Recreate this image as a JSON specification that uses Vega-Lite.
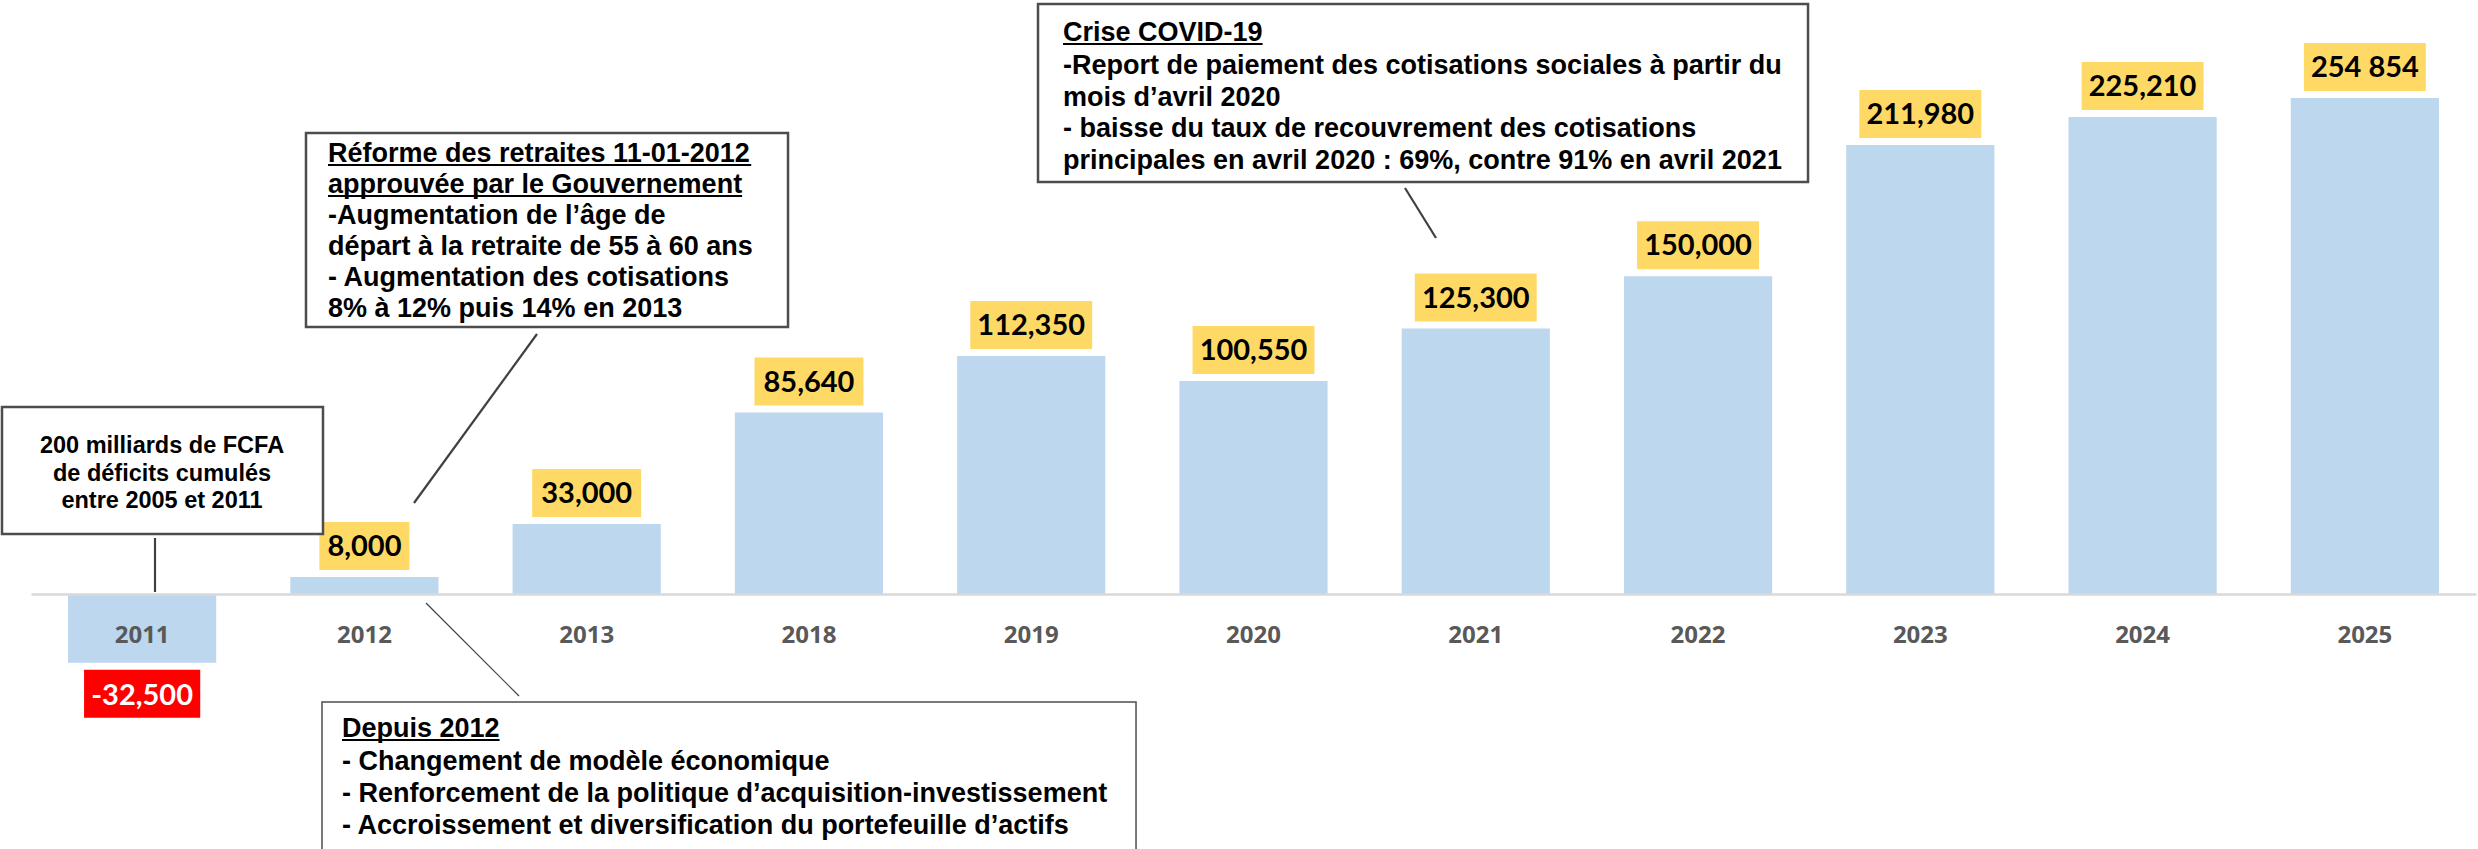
{
  "$schema": "https://vega.github.io/schema/vega-lite/v6.json",
  "width": 2445,
  "height": 849,
  "autosize": {"type": "none"},
  "padding": {"left": 31, "right": 2, "top": 0, "bottom": 0},
  "background": "white",
  "config": {"view": {"stroke": null}},
  "datasets": {
    "bars": [
      {"year": "2011", "value": -32500, "label": "-32,500"},
      {"year": "2012", "value": 8000, "label": "8,000"},
      {"year": "2013", "value": 33000, "label": "33,000"},
      {"year": "2018", "value": 85640, "label": "85,640"},
      {"year": "2019", "value": 112350, "label": "112,350"},
      {"year": "2020", "value": 100550, "label": "100,550"},
      {"year": "2021", "value": 125300, "label": "125,300"},
      {"year": "2022", "value": 150000, "label": "150,000"},
      {"year": "2023", "value": 211980, "label": "211,980"},
      {"year": "2024", "value": 225210, "label": "225,210"},
      {"year": "2025", "value": 234200, "label": "254 854"}
    ],
    "boxes": [
      {"id": "deficit", "x1": -0.1305, "x2": 1.3137, "y1": 88290, "y2": 28328},
      {"id": "reforme", "x1": 1.2372, "x2": 3.4058, "y1": 217657, "y2": 126061},
      {"id": "depuis", "x1": 1.3092, "x2": 4.9715, "y1": -50991, "y2": -125000},
      {"id": "covid", "x1": 4.5305, "x2": 7.9948, "y1": 278563, "y2": 194522}
    ],
    "leaders": [
      {"id": "deficit", "x1": 0.5579, "y1": 26440, "x2": 0.5579, "y2": 944},
      {"id": "reforme", "x1": 2.2765, "y1": 122756, "x2": 1.7231, "y2": 42965},
      {"id": "depuis", "x1": 1.7771, "y1": -4249, "x2": 2.1955, "y2": -48158},
      {"id": "covid", "x1": 6.1816, "y1": 191689, "x2": 6.3211, "y2": 168082}
    ],
    "notes": [
      {"box": "deficit", "x": 0.5894, "y": 66572, "text": "200 milliards de FCFA"},
      {"box": "deficit", "x": 0.5894, "y": 53352, "text": "de déficits cumulés"},
      {"box": "deficit", "x": 0.5894, "y": 40604, "text": "entre 2005 et 2011"},
      {"box": "reforme", "x": 1.3362, "y": 203964, "text": "Réforme des retraites 11-01-2012"},
      {"box": "reforme", "x": 1.3362, "y": 189328, "text": "approuvée par le Gouvernement"},
      {"box": "reforme", "x": 1.3362, "y": 174692, "text": "-Augmentation de l’âge de"},
      {"box": "reforme", "x": 1.3362, "y": 160055, "text": "départ à la retraite de 55 à 60 ans"},
      {"box": "reforme", "x": 1.3362, "y": 145419, "text": "- Augmentation des cotisations"},
      {"box": "reforme", "x": 1.3362, "y": 130783, "text": "8% à 12% puis 14% en 2013"},
      {"box": "covid", "x": 4.643, "y": 261093, "text": "Crise COVID-19"},
      {"box": "covid", "x": 4.643, "y": 245513, "text": "-Report de paiement des cotisations sociales à partir du"},
      {"box": "covid", "x": 4.643, "y": 230404, "text": "mois d’avril 2020"},
      {"box": "covid", "x": 4.643, "y": 215768, "text": "- baisse du taux de recouvrement des cotisations"},
      {"box": "covid", "x": 4.643, "y": 200660, "text": "principales en avril 2020 : 69%, contre 91% en avril 2021"},
      {"box": "depuis", "x": 1.3992, "y": -67516, "text": "Depuis 2012"},
      {"box": "depuis", "x": 1.3992, "y": -83097, "text": "- Changement de modèle économique"},
      {"box": "depuis", "x": 1.3992, "y": -98205, "text": "- Renforcement de la politique d’acquisition-investissement"},
      {"box": "depuis", "x": 1.3992, "y": -113314, "text": "- Accroissement et diversification du portefeuille d’actifs"}
    ],
    "underlines": [
      {"x1": 1.3362, "x2": 3.2402, "y": 202548},
      {"x1": 1.3362, "x2": 3.1992, "y": 187912},
      {"x1": 4.643, "x2": 5.541, "y": 259677},
      {"x1": 1.3992, "x2": 2.1082, "y": -68932}
    ]
  },
  "layer": [
    {
      "data": {"name": "bars"},
      "layer": [
        {
          "mark": {"type": "bar", "color": "#BDD7EE"},
          "encoding": {
            "x": {
              "field": "year",
              "type": "nominal",
              "sort": "ascending",
              "scale": {"paddingInner": 0.3333, "paddingOuter": 0.16667},
              "axis": {
                "orient": "bottom",
                "offset": -255,
                "ticks": false,
                "tickSize": 0,
                "domainColor": "#D9D9D9",
                "domainWidth": 2.5,
                "labelFont": "Open Sans, Lato, sans-serif",
                "labelFontWeight": "bold",
                "labelFontSize": 24,
                "labelColor": "#595959",
                "labelPadding": 48,
                "labelBaseline": "alphabetic",
                "labelAngle": 0,
                "title": null,
                "grid": false,
                "zindex": 1
              }
            },
            "y": {
              "field": "value",
              "type": "quantitative",
              "scale": {"domain": [-120397, 280453], "nice": false, "zero": false},
              "axis": null
            }
          }
        },
        {
          "transform": [{"filter": "datum.value >= 0"}],
          "mark": {"type": "point", "filled": true, "opacity": 1, "size": 2304, "yOffset": -31, "strokeWidth": 0},
          "encoding": {
            "x": {"field": "year", "type": "nominal"},
            "y": {"field": "value", "type": "quantitative", "scale": {"domain": [-120397, 280453], "nice": false, "zero": false}},
            "shape": {
              "field": "label",
              "type": "nominal",
              "legend": null,
              "scale": {
                "domain": ["8,000", "33,000", "85,640", "112,350", "100,550", "125,300", "150,000", "211,980", "225,210", "254 854", "-32,500"],
                "range": [
                  "M-1.875,-1H1.875V1H-1.875Z",
                  "M-2.27,-1H2.27V1H-2.27Z",
                  "M-2.27,-1H2.27V1H-2.27Z",
                  "M-2.54,-1H2.54V1H-2.54Z",
                  "M-2.54,-1H2.54V1H-2.54Z",
                  "M-2.54,-1H2.54V1H-2.54Z",
                  "M-2.54,-1H2.54V1H-2.54Z",
                  "M-2.54,-1H2.54V1H-2.54Z",
                  "M-2.54,-1H2.54V1H-2.54Z",
                  "M-2.54,-1H2.54V1H-2.54Z",
                  "M-2.42,-1H2.42V1H-2.42Z"
                ]
              }
            },
            "color": {"value": "#FFD966"}
          }
        },
        {
          "transform": [{"filter": "datum.value < 0"}],
          "mark": {"type": "point", "filled": true, "opacity": 1, "size": 2304, "yOffset": 31, "strokeWidth": 0},
          "encoding": {
            "x": {"field": "year", "type": "nominal"},
            "y": {"field": "value", "type": "quantitative", "scale": {"domain": [-120397, 280453], "nice": false, "zero": false}},
            "shape": {
              "field": "label",
              "type": "nominal",
              "legend": null,
              "scale": {
                "domain": ["8,000", "33,000", "85,640", "112,350", "100,550", "125,300", "150,000", "211,980", "225,210", "254 854", "-32,500"],
                "range": [
                  "M-1.875,-1H1.875V1H-1.875Z",
                  "M-2.27,-1H2.27V1H-2.27Z",
                  "M-2.27,-1H2.27V1H-2.27Z",
                  "M-2.54,-1H2.54V1H-2.54Z",
                  "M-2.54,-1H2.54V1H-2.54Z",
                  "M-2.54,-1H2.54V1H-2.54Z",
                  "M-2.54,-1H2.54V1H-2.54Z",
                  "M-2.54,-1H2.54V1H-2.54Z",
                  "M-2.54,-1H2.54V1H-2.54Z",
                  "M-2.54,-1H2.54V1H-2.54Z",
                  "M-2.42,-1H2.42V1H-2.42Z"
                ]
              }
            },
            "color": {"value": "#FF0000"}
          }
        },
        {
          "transform": [{"filter": "datum.value >= 0"}],
          "mark": {"type": "text", "font": "Lato, Open Sans, sans-serif", "fontWeight": "bold", "fontSize": 29, "baseline": "alphabetic", "align": "center", "yOffset": -21, "color": "#000000"},
          "encoding": {
            "x": {"field": "year", "type": "nominal"},
            "y": {"field": "value", "type": "quantitative", "scale": {"domain": [-120397, 280453], "nice": false, "zero": false}},
            "text": {"field": "label"}
          }
        },
        {
          "transform": [{"filter": "datum.value < 0"}],
          "mark": {"type": "text", "font": "Lato, Open Sans, sans-serif", "fontWeight": "bold", "fontSize": 29, "baseline": "alphabetic", "align": "center", "yOffset": 42, "color": "#FFFFFF"},
          "encoding": {
            "x": {"field": "year", "type": "nominal"},
            "y": {"field": "value", "type": "quantitative", "scale": {"domain": [-120397, 280453], "nice": false, "zero": false}},
            "text": {"field": "label"}
          }
        }
      ]
    },
    {
      "layer": [
        {
          "data": {"name": "boxes"},
          "mark": {"type": "rect", "fill": "#FFFFFF", "stroke": "#4D4D4D"},
          "encoding": {
            "x": {"field": "x1", "type": "quantitative", "scale": {"domain": [0, 11], "nice": false, "zero": false}, "axis": null},
            "x2": {"field": "x2"},
            "y": {"field": "y1", "type": "quantitative", "scale": {"domain": [-120397, 280453], "nice": false, "zero": false}},
            "y2": {"field": "y2"},
            "strokeWidth": {"condition": {"test": "datum.id === 'depuis'", "value": 1.5}, "value": 2.5}
          }
        },
        {
          "data": {"name": "leaders"},
          "mark": {"type": "rule", "color": "#404040"},
          "encoding": {
            "x": {"field": "x1", "type": "quantitative", "scale": {"domain": [0, 11], "nice": false, "zero": false}, "axis": null},
            "x2": {"field": "x2"},
            "y": {"field": "y1", "type": "quantitative", "scale": {"domain": [-120397, 280453], "nice": false, "zero": false}},
            "y2": {"field": "y2"},
            "strokeWidth": {"condition": {"test": "datum.id === 'depuis'", "value": 1.2}, "value": 2.2}
          }
        },
        {
          "data": {"name": "notes"},
          "transform": [{"filter": "datum.box === 'deficit'"}],
          "mark": {"type": "text", "font": "Liberation Sans, Arial, sans-serif", "fontWeight": "bold", "fontSize": 23.5, "align": "center", "baseline": "alphabetic", "color": "#000000"},
          "encoding": {
            "x": {"field": "x", "type": "quantitative", "scale": {"domain": [0, 11], "nice": false, "zero": false}, "axis": null},
            "y": {"field": "y", "type": "quantitative", "scale": {"domain": [-120397, 280453], "nice": false, "zero": false}},
            "text": {"field": "text"}
          }
        },
        {
          "data": {"name": "notes"},
          "transform": [{"filter": "datum.box !== 'deficit'"}],
          "mark": {"type": "text", "font": "Liberation Sans, Arial, sans-serif", "fontWeight": "bold", "fontSize": 27, "align": "left", "baseline": "alphabetic", "color": "#000000"},
          "encoding": {
            "x": {"field": "x", "type": "quantitative", "scale": {"domain": [0, 11], "nice": false, "zero": false}, "axis": null},
            "y": {"field": "y", "type": "quantitative", "scale": {"domain": [-120397, 280453], "nice": false, "zero": false}},
            "text": {"field": "text"}
          }
        },
        {
          "data": {"name": "underlines"},
          "mark": {"type": "rule", "color": "#000000", "strokeWidth": 2},
          "encoding": {
            "x": {"field": "x1", "type": "quantitative", "scale": {"domain": [0, 11], "nice": false, "zero": false}, "axis": null},
            "x2": {"field": "x2"},
            "y": {"field": "y", "type": "quantitative", "scale": {"domain": [-120397, 280453], "nice": false, "zero": false}}
          }
        }
      ]
    }
  ],
  "resolve": {"scale": {"x": "independent"}, "axis": {"x": "independent"}}
}
